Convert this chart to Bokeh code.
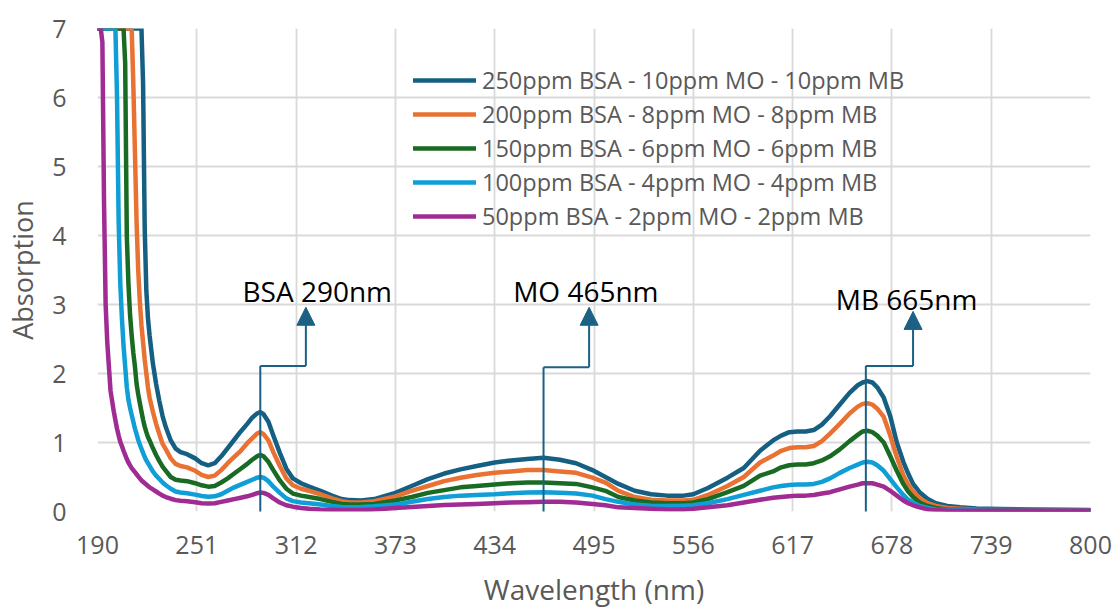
from bokeh.plotting import figure
from bokeh.models import Range1d, FixedTicker, Legend, LegendItem, Arrow, NormalHead, Label
from bokeh.embed import file_html
from bokeh.resources import INLINE

wavelength = [190, 192, 193, 194, 195, 196, 197, 198, 200, 201,
              202, 203, 204, 205, 206, 207, 208, 209, 210, 211,
              212, 213, 214, 215, 216, 217, 218, 219, 220, 221,
              222, 224, 226, 228, 230,
              232, 235, 238, 241, 245,
              250, 254, 258, 262, 266,
              270, 274, 278, 282, 285,
              288, 290, 292, 295, 298,
              302, 306, 310, 315, 320,
              327, 334, 340, 345, 352,
              360, 373, 383, 393, 403,
              413, 423, 434, 444, 454,
              464, 474, 484, 494, 502,
              510, 520, 530, 540, 550,
              556, 565, 577, 587, 597,
              605, 610, 615, 620, 625,
              630, 635, 640, 646, 652,
              657, 660, 663, 666, 669,
              673, 677, 681, 685, 688,
              691, 695, 700, 705, 712,
              720, 730, 745, 765, 785,
              800]

s250 = [7, 7, 7, 7, 7, 7, 7, 7, 7, 7,
        7, 7, 7, 7, 7, 7, 7, 7, 7, 7,
        7, 7, 7, 7, 7, 7, 6.2, 4.1, 3.2, 2.8,
        2.55, 2.15, 1.85, 1.6, 1.38,
        1.22, 1.03, 0.91, 0.86, 0.83,
        0.77, 0.70, 0.67, 0.70, 0.80,
        0.92, 1.04, 1.16, 1.27, 1.36,
        1.42, 1.44, 1.41, 1.30, 1.10,
        0.85, 0.62, 0.48, 0.41, 0.36,
        0.30, 0.23, 0.18, 0.165, 0.16,
        0.18, 0.27, 0.37, 0.47, 0.55,
        0.61, 0.66, 0.71, 0.74, 0.76,
        0.78, 0.75, 0.70, 0.60, 0.50,
        0.40, 0.30, 0.25, 0.23, 0.23,
        0.25, 0.34, 0.49, 0.63, 0.88,
        1.03, 1.10, 1.15, 1.16, 1.16,
        1.18, 1.26, 1.38, 1.55, 1.72,
        1.83, 1.87, 1.89, 1.87, 1.80,
        1.65, 1.38, 1.00, 0.72, 0.55,
        0.40, 0.28, 0.18, 0.12, 0.08,
        0.06, 0.045, 0.035, 0.03, 0.025,
        0.02]

s200 = [7, 7, 7, 7, 7, 7, 7, 7, 7, 7,
        7, 7, 7, 7, 7, 7, 7, 7, 7, 7,
        6.2, 5.2, 4.2, 3.5, 3.05, 2.7, 2.45, 2.2, 2.0, 1.8,
        1.65, 1.45, 1.27, 1.12, 0.98,
        0.90, 0.77, 0.69, 0.66, 0.64,
        0.59, 0.53, 0.50, 0.52, 0.60,
        0.70, 0.79, 0.88, 0.99, 1.06,
        1.13, 1.15, 1.12, 1.03, 0.86,
        0.66, 0.48, 0.38, 0.33, 0.30,
        0.25, 0.19, 0.15, 0.13, 0.13,
        0.15, 0.22, 0.30, 0.37, 0.44,
        0.49, 0.53, 0.56, 0.58, 0.60,
        0.60, 0.58, 0.56, 0.49, 0.42,
        0.30, 0.21, 0.17, 0.16, 0.16,
        0.17, 0.24, 0.37, 0.50, 0.71,
        0.81, 0.88, 0.92, 0.93, 0.93,
        0.95, 1.02, 1.13, 1.27, 1.42,
        1.52, 1.56, 1.57, 1.55, 1.49,
        1.37, 1.10, 0.79, 0.53, 0.39,
        0.29, 0.19, 0.12, 0.08, 0.05,
        0.04, 0.03, 0.025, 0.02, 0.015,
        0.015]

s150 = [7, 7, 7, 7, 7, 7, 7, 7, 7, 7,
        7, 7, 7, 7, 7, 6.5, 4.0, 3.3, 2.85, 2.55,
        2.3, 2.1, 1.85, 1.7, 1.57, 1.45, 1.33, 1.23, 1.15, 1.08,
        1.03, 0.92, 0.82, 0.73, 0.65,
        0.59, 0.50, 0.46, 0.45, 0.44,
        0.41, 0.38, 0.36, 0.37, 0.42,
        0.48, 0.55, 0.62, 0.69, 0.75,
        0.80, 0.82, 0.80, 0.72, 0.60,
        0.45, 0.33, 0.26, 0.23, 0.21,
        0.18, 0.14, 0.11, 0.10, 0.10,
        0.11, 0.16, 0.21, 0.27, 0.31,
        0.35, 0.37, 0.39, 0.41, 0.42,
        0.42, 0.41, 0.40, 0.35, 0.30,
        0.21, 0.16, 0.13, 0.12, 0.12,
        0.13, 0.18, 0.28, 0.37, 0.52,
        0.58, 0.64, 0.67, 0.68, 0.68,
        0.70, 0.74, 0.80, 0.90, 1.02,
        1.11, 1.16, 1.17, 1.15, 1.10,
        1.00, 0.80, 0.59, 0.40, 0.29,
        0.21, 0.13, 0.08, 0.05, 0.03,
        0.025, 0.02, 0.02, 0.015, 0.01,
        0.01]

s100 = [7, 7, 7, 7, 7, 7, 7, 7, 7, 7,
        6.0, 4.2, 3.3, 2.8, 2.4, 2.1, 1.8, 1.62, 1.5, 1.4,
        1.3, 1.2, 1.12, 1.04, 0.97, 0.91, 0.85, 0.79, 0.74, 0.70,
        0.66, 0.58, 0.52, 0.47, 0.42,
        0.38, 0.33, 0.29, 0.275, 0.265,
        0.245, 0.225, 0.215, 0.22, 0.25,
        0.30, 0.35, 0.39, 0.43, 0.46,
        0.49, 0.50, 0.49, 0.44, 0.36,
        0.27, 0.19, 0.15, 0.13, 0.12,
        0.10, 0.08, 0.065, 0.06, 0.065,
        0.075, 0.10, 0.14, 0.18, 0.21,
        0.23, 0.24, 0.25, 0.265, 0.275,
        0.28, 0.27, 0.26, 0.23, 0.18,
        0.14, 0.10, 0.085, 0.08, 0.085,
        0.09, 0.12, 0.18, 0.24, 0.30,
        0.35, 0.37, 0.385, 0.39, 0.39,
        0.40, 0.43, 0.48, 0.56, 0.63,
        0.68, 0.71, 0.72, 0.71, 0.67,
        0.59, 0.47, 0.35, 0.24, 0.17,
        0.13, 0.08, 0.05, 0.03, 0.02,
        0.02, 0.015, 0.01, 0.01, 0.01,
        0.01]

s50 = [7, 7, 6.8, 4.5, 3.0, 2.45, 2.1, 1.75, 1.45, 1.32,
       1.2, 1.1, 1.01, 0.95, 0.88, 0.82, 0.76, 0.71, 0.67, 0.63,
       0.60, 0.57, 0.54, 0.51, 0.48, 0.45, 0.43, 0.41, 0.39, 0.37,
       0.35, 0.32, 0.29, 0.26, 0.23,
       0.21, 0.185, 0.165, 0.155, 0.15,
       0.135, 0.12, 0.115, 0.12, 0.14,
       0.16, 0.18, 0.20, 0.22, 0.24,
       0.265, 0.275, 0.27, 0.24, 0.19,
       0.13, 0.09, 0.07, 0.05, 0.04,
       0.03, 0.025, 0.02, 0.02, 0.02,
       0.03, 0.05, 0.065, 0.08, 0.095,
       0.10, 0.11, 0.12, 0.13, 0.135,
       0.14, 0.14, 0.13, 0.11, 0.09,
       0.06, 0.05, 0.04, 0.03, 0.03,
       0.04, 0.06, 0.09, 0.13, 0.17,
       0.20, 0.21, 0.22, 0.23, 0.23,
       0.24, 0.26, 0.28, 0.32, 0.36,
       0.39, 0.41, 0.41, 0.41, 0.39,
       0.36, 0.30, 0.23, 0.16, 0.12,
       0.09, 0.06, 0.03, 0.02, 0.01,
       0.01, 0.01, 0.01, 0.01, 0.01,
       0.01]

series_names = ["250ppm BSA - 10ppm MO - 10ppm MB",
                "200ppm BSA - 8ppm MO - 8ppm MB",
                "150ppm BSA - 6ppm MO - 6ppm MB",
                "100ppm BSA - 4ppm MO - 4ppm MB",
                "50ppm BSA - 2ppm MO - 2ppm MB"]
series_values = [s250, s200, s150, s100, s50]
series_colors = ["#156082", "#E97132", "#196B24", "#0F9ED5", "#A02B93"]

x_ticks = [190, 251, 312, 373, 434, 495, 556, 617, 678, 739, 800]
y_ticks = [0, 1, 2, 3, 4, 5, 6, 7]

callout_text = ["BSA 290nm", "MO 465nm", "MB 665nm"]
callout_peak = [290, 464, 662]
callout_elbow_x = [318, 492, 691]
callout_elbow_y = [2.11, 2.09, 2.11]
callout_tip_y = [2.96, 2.96, 2.9]
callout_text_x = [325, 490, 687]
callout_text_y = [3.2, 3.2, 3.08]

FONT = "Open Sans"
GRAY = "#595959"

p = figure(width=1114, height=612, output_backend="svg", toolbar_location=None,
           x_range=Range1d(190, 800), y_range=Range1d(0, 7),
           min_border_left=97, min_border_right=24, min_border_top=28, min_border_bottom=101)
p.outline_line_color = None
p.background_fill_color = "white"

for ax in (p.xaxis[0], p.yaxis[0]):
    ax.axis_line_color = None
    ax.major_tick_line_color = None
    ax.minor_tick_line_color = None
    ax.major_label_text_font = FONT
    ax.major_label_text_color = GRAY
    ax.major_label_text_font_size = "25px"
    ax.axis_label_text_font = FONT
    ax.axis_label_text_color = GRAY
    ax.axis_label_text_font_style = "normal"

p.xaxis.ticker = FixedTicker(ticks=x_ticks)
p.yaxis.ticker = FixedTicker(ticks=y_ticks)
p.xaxis.axis_label = "Wavelength (nm)"
p.yaxis.axis_label = "Absorption"
p.xaxis.axis_label_text_font_size = "28px"
p.yaxis.axis_label_text_font_size = "27px"
p.xaxis.major_label_standoff = 18
p.yaxis.major_label_standoff = 25
p.xaxis.axis_label_standoff = 13
p.yaxis.axis_label_standoff = 8

p.xgrid.ticker = FixedTicker(ticks=x_ticks)
p.ygrid.ticker = FixedTicker(ticks=y_ticks)
for g in (p.xgrid[0], p.ygrid[0]):
    g.grid_line_color = "#d9d9d9"
    g.grid_line_width = 1.8

items = []
for name, vals, col in zip(series_names, series_values, series_colors):
    r = p.line(wavelength, vals, line_color=col, line_width=4.5, line_join="round", line_cap="round")
    items.append(LegendItem(label=name, renderers=[r]))

legend = Legend(items=items, location=(316, 278), background_fill_alpha=0, border_line_color=None,
                padding=0, margin=0, spacing=0, glyph_width=63, glyph_height=34, label_height=34,
                label_standoff=6, label_text_font=FONT, label_text_font_size="23.5px",
                label_text_color=GRAY)
p.add_layout(legend, "center")

LC = "#1A6185"
for t, px, ex, ey, ty, tx, tyy in zip(callout_text, callout_peak, callout_elbow_x, callout_elbow_y,
                                     callout_tip_y, callout_text_x, callout_text_y):
    p.add_layout(Arrow(end=None, x_start=px, y_start=-0.09, x_end=px, y_end=ey, line_color=LC, line_width=2))
    p.add_layout(Arrow(end=None, x_start=px, y_start=ey, x_end=ex, y_end=ey, line_color=LC, line_width=2))
    p.add_layout(Arrow(end=NormalHead(size=18, fill_color=LC, line_color=LC),
                       x_start=ex, y_start=ey, x_end=ex, y_end=ty, line_color=LC, line_width=2))
    p.add_layout(Label(x=tx, y=tyy, text=t, text_align="center", text_baseline="middle",
                       text_font=FONT, text_font_size="28px", text_color="black"))

open("out.html", "w").write(file_html(p, INLINE))
